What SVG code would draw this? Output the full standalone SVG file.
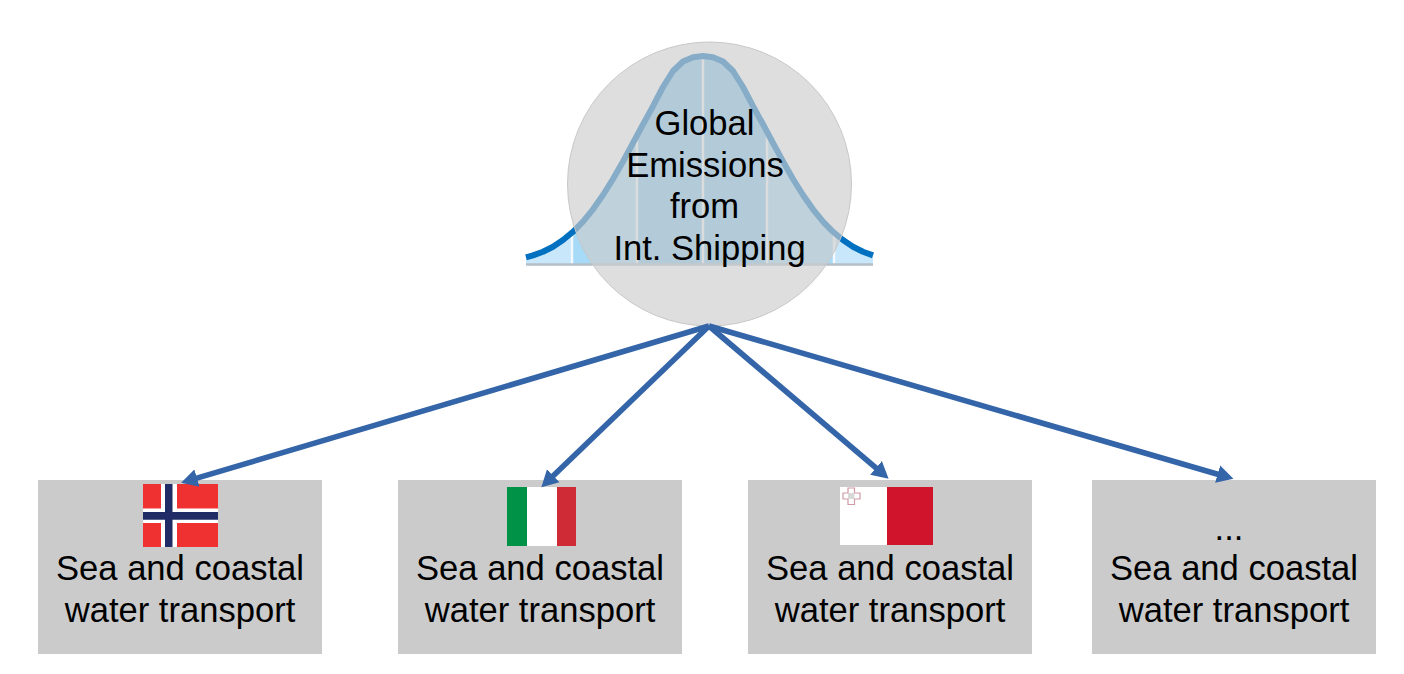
<svg xmlns="http://www.w3.org/2000/svg" width="1404" height="674" viewBox="0 0 1404 674">
<style>
text{font-family:"Liberation Sans",Arial,sans-serif;font-size:34.6px;fill:#000;text-anchor:middle}
.box{fill:#cbcbcb}
.conn{fill:none;stroke:#3465a8;stroke-width:5.6;marker-end:url(#head)}
.grid{stroke:#f2f8fc;stroke-width:2.5;fill:none}
</style>
<defs>
<marker id="head" markerUnits="userSpaceOnUse" viewBox="0 -10 18 20" refX="1" refY="0" markerWidth="18" markerHeight="20" orient="auto"><path d="M0,-9L16.500,0L0,9Z" fill="#3465a8"/></marker>
<clipPath id="bellClip"><path id="bellArea" d="M526,264V257.4L533,255.4L543,251.7L553,246.7L563,240L573,231.8L583,221.6L593,209.3L603,195L613,179L623,161.4L633,143L643,124.3L653,106.2L663,87L673,71L683,61.500L693,57.200L703,56L713,57.200L723,61.500L733,71L743,87L753,106.2L763,124.3L773,143L783,161.4L793,179L803,195L813,209.3L823,221.6L833,231.8L843,240L853,246.7L863,251.7L873,255.4V264Z"/></clipPath>
</defs>
<rect width="1404" height="674" fill="#fff"/>
<g id="global-emissions">
<g id="bell-curve">
<g clip-path="url(#bellClip)">
<rect x="526" y="50" width="347" height="214" fill="#c9e7fa"/>
<rect x="572" y="50" width="65" height="214" fill="#a6daf7"/>
<rect x="637" y="50" width="130" height="214" fill="#82c5ed"/>
<rect x="767" y="50" width="67" height="214" fill="#a6daf7"/>
<path class="grid" d="M572,50V264M637,50V264M703,50V264M767,50V264M834,50V264"/>
</g>
<path d="M526,264.500H873" stroke="#b4bfc7" stroke-width="2.500" fill="none"/>
<path d="M526,257.4L533,255.4L543,251.7L553,246.7L563,240L573,231.8L583,221.6L593,209.3L603,195L613,179L623,161.4L633,143L643,124.3L653,106.2L663,87L673,71L683,61.500L693,57.200L703,56L713,57.200L723,61.500L733,71L743,87L753,106.2L763,124.3L773,143L783,161.4L793,179L803,195L813,209.3L823,221.6L833,231.8L843,240L853,246.7L863,251.7L873,255.4" fill="none" stroke="#0070c0" stroke-width="6" stroke-linejoin="round"/>
</g>
<circle cx="709.500" cy="184" r="142" fill="#cdcdcd" fill-opacity="0.655" stroke="#c8c8c8" stroke-width="1"/>
<text x="704.500" y="135">Global</text>
<text x="705" y="177">Emissions</text>
<text x="704.500" y="218">from</text>
<text x="709.500" y="260">Int. Shipping</text>
</g>
<g id="node-norway">
<rect class="box" x="38" y="480" width="284" height="174"/>
<rect x="143" y="484" width="75" height="63" fill="#f03131"/>
<path d="M161,484h16v63h-16zM143,508.500h75v14.500h-75z" fill="#fff"/>
<path d="M165,484h7.500v63h-7.500zM143,512h75v7.700h-75z" fill="#202c66"/>
<text x="180" y="580">Sea and coastal</text>
<text x="180" y="622">water transport</text>
</g>
<g id="node-italy">
<rect class="box" x="398" y="480" width="284" height="174"/>
<rect x="507" y="487" width="20" height="59" fill="#009246"/>
<rect x="527" y="487" width="30" height="59" fill="#fff"/>
<rect x="557" y="487" width="19" height="59" fill="#ce2b37"/>
<text x="540" y="580">Sea and coastal</text>
<text x="540" y="622">water transport</text>
</g>
<g id="node-malta">
<rect class="box" x="748" y="480" width="284" height="174"/>
<rect x="840" y="487" width="47" height="58" fill="#fff"/>
<rect x="887" y="487" width="46" height="58" fill="#cf142b"/>
<path d="M848,488h6.500v5h5.500v6h-5.500v5.500h-6.500v-5.500h-5v-6h5z" fill="#fff" stroke="#cf9aa5" stroke-width="1.200"/>
<rect x="848" y="493" width="6.500" height="6" fill="#d8d8d8"/>
<text x="890" y="580">Sea and coastal</text>
<text x="890" y="622">water transport</text>
</g>
<g id="node-other">
<rect class="box" x="1092" y="480" width="284" height="174"/>
<text x="1229" y="540">...</text>
<text x="1234" y="580">Sea and coastal</text>
<text x="1234" y="622">water transport</text>
</g>
<g id="connectors">
<path class="conn" d="M709,326L196,478.400"/>
<path class="conn" d="M709,326L552.500,476.500"/>
<path class="conn" d="M709,326L876.800,468.600"/>
<path class="conn" d="M709,326L1218.600,474.500"/>
</g>
</svg>
